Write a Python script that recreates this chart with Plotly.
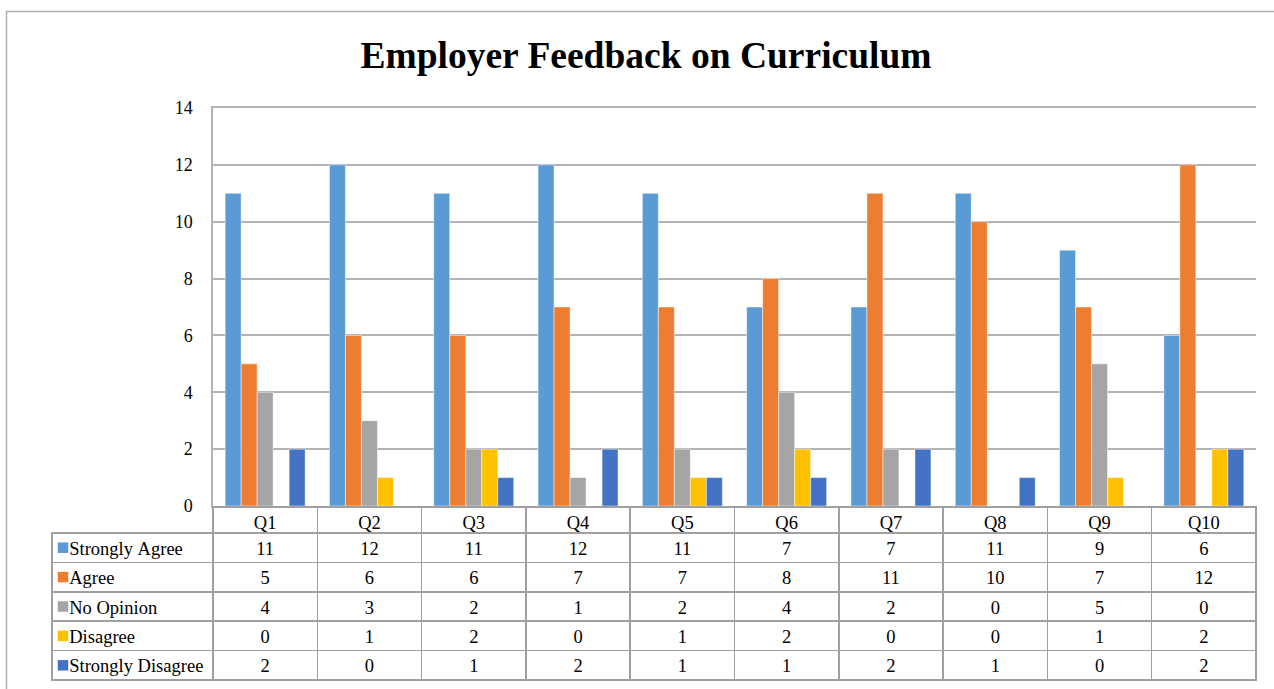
import plotly.graph_objects as go

W, H = 1274, 689

questions = ["Q1", "Q2", "Q3", "Q4", "Q5", "Q6", "Q7", "Q8", "Q9", "Q10"]
series_names = ["Strongly Agree", "Agree", "No Opinion", "Disagree", "Strongly Disagree"]
strongly_agree = [11, 12, 11, 12, 11, 7, 7, 11, 9, 6]
agree = [5, 6, 6, 7, 7, 8, 11, 10, 7, 12]
no_opinion = [4, 3, 2, 1, 2, 4, 2, 0, 5, 0]
disagree = [0, 1, 2, 0, 1, 2, 0, 0, 1, 2]
strongly_disagree = [2, 0, 1, 2, 1, 1, 2, 1, 0, 2]
colors = ["#5B9BD5", "#ED7D31", "#A5A5A5", "#FFC000", "#4472C4"]
y_ticks = [0, 2, 4, 6, 8, 10, 12, 14]

series_values = [strongly_agree, agree, no_opinion, disagree, strongly_disagree]
FONT = "Liberation Serif, Times New Roman, serif"
GRID = "#b3b3b3"
TBL = "#a0a0a0"

px_x = lambda p: p / W
px_y = lambda p: 1 - p / H

left_px, plot_l, plot_r = 52, 213, 1256
plot_t, plot_b = 108, 506
tbl_top, tbl_hdr_b, tbl_bot = 507, 533, 680
cat_w = (plot_r - plot_l) / len(questions)

fig = go.Figure()
for name, vals, col in zip(series_names, series_values, colors):
    fig.add_trace(go.Bar(
        x=questions, y=vals, name=name,
        marker=dict(color=col, line=dict(color="rgba(255,255,255,0.6)", width=0.8)),
        showlegend=False, hoverinfo="x+y+name",
    ))

# legend keys in the table's first column (drawn under the transparent table)
fig.add_trace(go.Scatter(
    x=[0] * len(series_names), y=list(range(len(series_names))),
    mode="markers", xaxis="x2", yaxis="y2", showlegend=False, hoverinfo="skip",
    marker=dict(symbol="square", size=10.5, color=colors, line=dict(width=0)),
))

# data table below the chart
first_col = ["\u00a0\u00a0" + n.replace(" ", "\u00a0") for n in series_names]
cols = [first_col] + [[str(v[i]) for v in series_values] for i in range(len(questions))]

fig.add_trace(go.Table(
    domain=dict(x=[px_x(left_px), px_x(plot_r)], y=[px_y(tbl_bot + 1), px_y(tbl_top)]),
    columnwidth=[plot_l - left_px] + [cat_w] * len(questions),
    header=dict(
        values=[""] + questions,
        height=tbl_hdr_b - tbl_top,
        align="center",
        font=dict(family=FONT, size=18.5, color="black"),
        fill=dict(color="rgba(0,0,0,0)"),
        line=dict(color=["rgba(0,0,0,0)"] + [TBL] * len(questions), width=1.5),
    ),
    cells=dict(
        values=cols,
        height=(tbl_bot - tbl_hdr_b) / 5,
        align=["left"] + ["center"] * len(questions),
        font=dict(family=FONT, size=18.5, color="black"),
        fill=dict(color="rgba(0,0,0,0)"),
        line=dict(color=TBL, width=1.5),
    ),
))

fig.update_layout(
    width=W, height=H,
    margin=dict(l=0, r=0, t=0, b=0, autoexpand=False),
    paper_bgcolor="white", plot_bgcolor="white",
    barmode="group", bargap=0.233, bargroupgap=0,
    title=dict(text="<b>Employer Feedback on Curriculum</b>", x=646 / W, xanchor="center",
               y=px_y(55), yanchor="middle",
               font=dict(family=FONT, size=37.5, color="black")),
    xaxis=dict(domain=[px_x(plot_l), px_x(plot_r)], showticklabels=False, ticks="",
               showgrid=False, zeroline=False, automargin=False,
               showline=True, mirror=True, linecolor=GRID, linewidth=1.5),
    yaxis=dict(domain=[px_y(plot_b), px_y(plot_t)], range=[0, 14], tickvals=y_ticks,
               ticks="", ticklabelstandoff=15, automargin=False,
               tickfont=dict(family=FONT, size=18, color="black"),
               showgrid=True, gridcolor=GRID, gridwidth=1.5,
               zeroline=False, showline=True, linecolor=GRID, linewidth=1.5),
    xaxis2=dict(domain=[px_x(57), px_x(69)], range=[-1, 1], visible=False, fixedrange=True,
                automargin=False),
    yaxis2=dict(domain=[px_y(tbl_bot), px_y(tbl_hdr_b)], range=[4.5, -0.5], visible=False,
                fixedrange=True, automargin=False),
    shapes=[dict(type="rect", xref="paper", yref="paper",
                 x0=px_x(6.5), x1=1.05, y0=-0.05, y1=px_y(11.5),
                 line=dict(color="#b0b0b0", width=1.5), fillcolor="rgba(0,0,0,0)", layer="below")],
    font=dict(family=FONT),
)

fig.write_html("out.html", config={"displayModeBar": False},
               post_script="document.body.style.margin='0';document.body.style.overflow='hidden';")
